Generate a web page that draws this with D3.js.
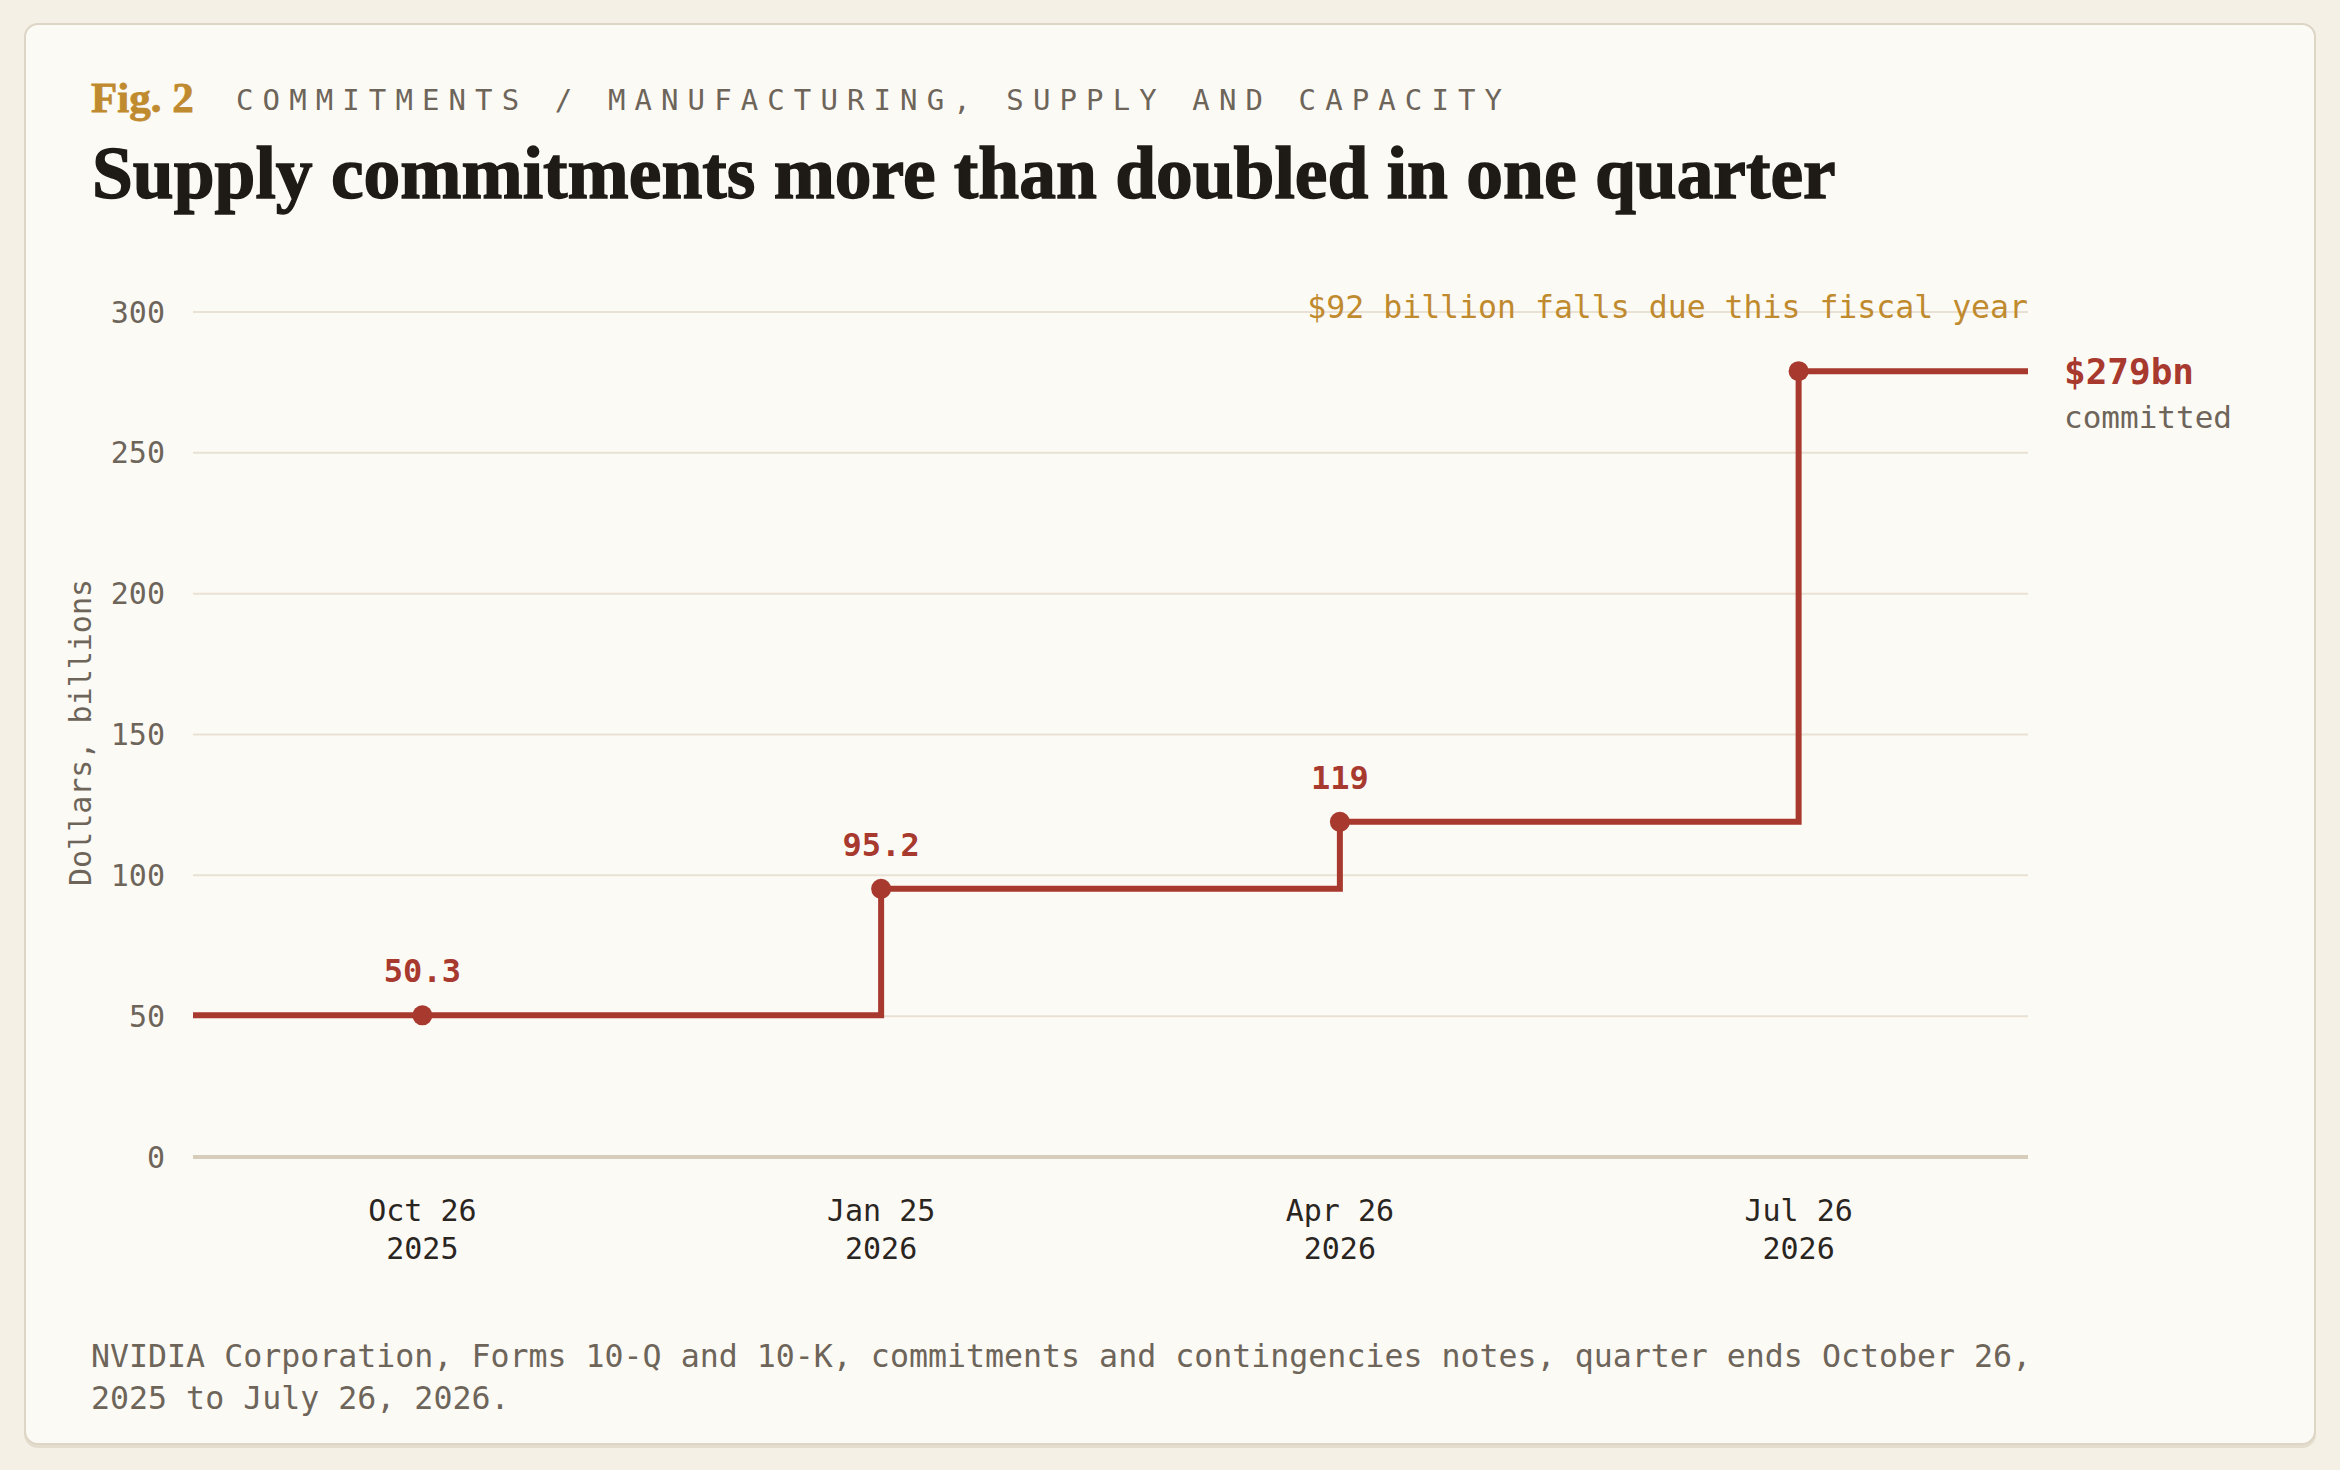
<!DOCTYPE html>
<html>
<head>
<meta charset="utf-8">
<script src="https://cdn.jsdelivr.net/npm/d3@7"></script>
<style>
  html, body { margin: 0; padding: 0; background: #f4f0e6; }
  body { width: 2340px; height: 1470px; position: relative; overflow: hidden; }
  #card {
    position: absolute; left: 24px; top: 23px; width: 2288px; height: 1418px;
    background: #fcfaf5; border: 2px solid #ddd6c6; border-radius: 14px;
    box-shadow: 0 3px 0 #e4ddce;
  }
  #chart { position: absolute; left: 0; top: 0; }
</style>
</head>
<body>
<div id="card"></div>
<svg id="chart" width="2340" height="1470"></svg>
<script>
// quarter-end data, dollars in billions
var quarters = ["Oct 26", "Jan 25", "Apr 26", "Jul 26"];
var years = ["2025", "2026", "2026", "2026"];
var commitments = [50.3, 95.2, 119, 279];
var valueLabels = ["50.3", "95.2", "119", ""];
var yTicks = [0, 50, 100, 150, 200, 250, 300];

var mono = "'DejaVu Sans Mono', 'Liberation Mono', monospace";
var serif = "'Liberation Serif', 'DejaVu Serif', serif";
var red = "#a8392e", gold = "#c08a2f", grey = "#6e655a", ink = "#1e1a15";

var svg = d3.select("#chart");

// plot frame (window.top is taken, so prefixed names)
var plotL = 193, plotR = 2028, plotT = 312, plotB = 1157;

var x = d3.scaleBand().domain(quarters).range([plotL, plotR]).padding(0);
var y = d3.scaleLinear().domain([0, 300]).range([plotB, plotT]);
var cx = function (q) { return x(q) + x.bandwidth() / 2; };

// header
svg.append("text").attr("x", 91).attr("y", 112)
    .style("font-family", serif).style("font-weight", 700).style("font-size", "43px")
    .style("fill", gold).style("stroke", gold).style("stroke-width", 0.8)
    .text("Fig. 2");

var sub = svg.append("text").attr("x", 236).attr("y", 110)
    .style("font-family", mono).style("font-size", "29px").style("fill", grey)
    .text("COMMITMENTS / MANUFACTURING, SUPPLY AND CAPACITY");
// spread the letters so the line ends where the original does
var subLen = sub.node().getComputedTextLength();
var nChars = sub.text().length;
sub.style("letter-spacing", ((1266 - subLen) / (nChars - 1)) + "px");

var title = svg.append("text").attr("x", 92).attr("y", 198)
    .style("font-family", serif).style("font-weight", 700).style("font-size", "68px")
    .style("fill", ink).style("stroke", ink).style("stroke-width", 1.4)
    .text("Supply commitments more than doubled in one quarter");
var tLen = title.node().getComputedTextLength();
var fs = Math.max(60, Math.min(76, 68 * 1744 / tLen));
title.style("font-size", fs + "px");

// gridlines
svg.append("g").selectAll("line").data(yTicks).enter().append("line")
    .attr("x1", plotL).attr("x2", plotR)
    .attr("y1", function (d) { return y(d); }).attr("y2", function (d) { return y(d); })
    .style("stroke", function (d) { return d === 0 ? "#d6cdba" : "#e9e2d4"; })
    .style("stroke-width", function (d) { return d === 0 ? 4 : 2; });

// y axis labels
svg.append("g").selectAll("text").data(yTicks).enter().append("text")
    .attr("x", 165).attr("y", function (d) { return y(d); }).attr("dy", "0.35em")
    .attr("text-anchor", "end")
    .style("font-family", mono).style("font-size", "30px").style("fill", grey)
    .text(function (d) { return d; });

svg.append("text").attr("transform", "translate(91," + ((plotT + plotB) / 2 - 2) + ") rotate(-90)")
    .attr("text-anchor", "middle")
    .style("font-family", mono).style("font-size", "30px").style("fill", grey)
    .text("Dollars, billions");

// x axis labels, two lines
var xl = svg.append("g").selectAll("text").data(quarters).enter().append("text")
    .attr("text-anchor", "middle")
    .style("font-family", mono).style("font-size", "30px").style("fill", "#2a251f");
xl.append("tspan").attr("x", function (d) { return cx(d); }).attr("y", 1221)
    .text(function (d) { return d; });
xl.append("tspan").attr("x", function (d) { return cx(d); }).attr("y", 1259)
    .text(function (d, i) { return years[i]; });

// step line, carried out to both edges of the plot
var pts = [[plotL, commitments[0]]];
quarters.forEach(function (q, i) { pts.push([cx(q), commitments[i]]); });
pts.push([plotR, commitments[commitments.length - 1]]);

var line = d3.line()
    .x(function (d) { return d[0]; })
    .y(function (d) { return y(d[1]); })
    .curve(d3.curveStepAfter);

svg.append("path").datum(pts).attr("d", line)
    .style("fill", "none").style("stroke", red).style("stroke-width", 6)
    .style("stroke-linejoin", "miter");

svg.append("g").selectAll("circle").data(quarters).enter().append("circle")
    .attr("cx", function (d) { return cx(d); })
    .attr("cy", function (d, i) { return y(commitments[i]); })
    .attr("r", 10).style("fill", red);

svg.append("g").selectAll("text").data(quarters).enter().append("text")
    .attr("x", function (d) { return cx(d); })
    .attr("y", function (d, i) { return y(commitments[i]) - 33; })
    .attr("text-anchor", "middle")
    .style("font-family", mono).style("font-weight", 700).style("font-size", "32px")
    .style("fill", red)
    .text(function (d, i) { return valueLabels[i]; });

// end label
var last = commitments[commitments.length - 1];
svg.append("text").attr("x", plotR + 36).attr("y", y(last) + 13)
    .style("font-family", mono).style("font-weight", 700).style("font-size", "36px")
    .style("fill", red).text("$" + last + "bn");
svg.append("text").attr("x", plotR + 36).attr("y", y(last) + 57)
    .style("font-family", mono).style("font-size", "31px")
    .style("fill", grey).text("committed");

// annotation above the top gridline
svg.append("text").attr("x", plotR).attr("y", y(300) + 6)
    .attr("text-anchor", "end")
    .style("font-family", mono).style("font-size", "31.5px")
    .style("fill", gold).text("$92 billion falls due this fiscal year");

// source note
var note = svg.append("text")
    .style("font-family", mono).style("font-size", "31.6px").style("fill", grey);
note.append("tspan").attr("x", 91).attr("y", 1367)
    .text("NVIDIA Corporation, Forms 10-Q and 10-K, commitments and contingencies notes, quarter ends October 26,");
note.append("tspan").attr("x", 91).attr("y", 1409)
    .text("2025 to July 26, 2026.");
</script>
</body>
</html>
